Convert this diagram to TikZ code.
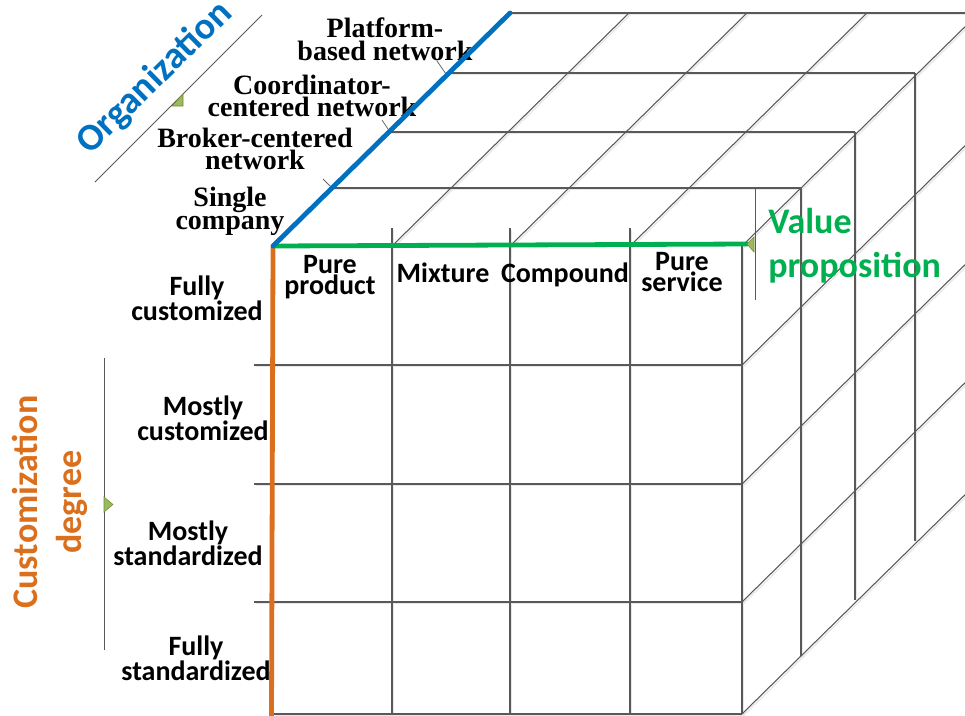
\documentclass[tikz,border=0pt]{standalone}
\usepackage{fontspec}
\setmainfont{Liberation Serif}
\newfontfamily\calfont{Carlito}
\definecolor{orgblue}{RGB}{0,112,192}
\definecolor{valgreen}{RGB}{0,176,80}
\definecolor{custorange}{RGB}{218,112,30}
\definecolor{olivefill}{RGB}{155,187,89}
\definecolor{olivedark}{RGB}{113,137,63}
\newcommand\drawcubegrid[1]{%
  % front face
  \foreach \c in {392,510,630} \draw[#1] (\c,228) -- (\c,714);
  \draw[#1] (742,246) -- (742,714);
  \foreach \r in {365,484,602} \draw[#1] (254,\r) -- (742,\r);
  \draw[#1] (273,714) -- (742,714);
  % top face diagonals
  \foreach \c in {392,510,630,742} \draw[#1] (\c,246) -- (\c+237,13);
  % right face diagonals
  \foreach \r in {365,484,602,714} \draw[#1] (742,\r) -- (979,\r-233);
  % depth layers
  \foreach \dx/\dy in {59/58,113/114,173/173,237/233}{
    \draw[#1] (273+\dx,246-\dy) -- (742+\dx,246-\dy);
    \draw[#1] (742+\dx,246-\dy) -- (742+\dx,714-\dy);
  }
}
\begin{document}
\begin{tikzpicture}[x=0.75pt,y=-0.75pt,
  gl/.style={draw=black!65, line width=0.8pt},
  glshadow/.style={draw=black!9, line width=1.1pt},
  lab/.style={font=\calfont\bfseries\fontsize{21pt}{15.75pt}\selectfont, inner sep=0pt, align=center},
  slab/.style={font=\bfseries\fontsize{21pt}{17pt}\selectfont, inner sep=0pt, align=center},
  axislab/.style={font=\calfont\bfseries\fontsize{27pt}{33pt}\selectfont, inner sep=0pt, align=center},
  tri/.style={fill=olivefill, draw=olivedark, line width=0.4pt},
  bracket/.style={draw=black!65, line width=0.75pt},
  leader/.style={draw=black!60, line width=0.6pt},
  axisline/.style={line width=3.6pt}]
\useasboundingbox (0,0) rectangle (965,715);
\clip (0,0) rectangle (965,715);

% grid with faint shadow
\begin{scope}[shift={(1.5,1.5)}]
  \drawcubegrid{glshadow}
\end{scope}
\drawcubegrid{gl}

% organization labels (serif)
\node[slab] (plat) at (385,39) {Platform-\\based network};
\node[slab] (coord) at (312,96) {Coordinator-\\centered network};
\node[slab] (broker) at (255,149) {Broker-centered\\network};
\node[slab] (single) at (230,211) {Single\\company};

% leader ticks
\coordinate (l3) at (446,74);
\coordinate (l2) at (390,132);
\coordinate (l1) at (332,188);
\coordinate (t3) at (437,61);
\coordinate (t2) at (382,120);
\coordinate (t1) at (323,179);
\draw[leader] (t3) -- (l3);
\draw[leader] (t2) -- (l2);
\draw[leader] (t1) -- (l1);

% customization labels
\node[lab] (fc) at (197,298.5) {Fully\\customized};
\node[lab] (mc) at (203,418) {Mostly\\customized};
\node[lab] (ms) at (188,543.5) {Mostly\\standardized};
\node[lab] (fs) at (196,658) {Fully\\standardized};

% value proposition labels
\node[lab] (pp) at (330,277) {Pure\\product};
\node[lab, anchor=base] (mix) at (443,282) {Mixture};
\node[lab, anchor=base] (comp) at (565,282) {Compound};
\node[lab] (ps) at (682,272) {Pure\\service};

% axis titles
\node[axislab, text=valgreen, anchor=west, align=left] (val) at (768,246) {Value\\proposition};
\node[axislab, text=custorange, rotate=90] (cust) at (50,502) {Customization\\degree};
\node[axislab, text=orgblue, rotate=44.5, font=\calfont\bfseries\fontsize{28.5pt}{33pt}\selectfont] (org) at (155,78) {Organization};

% bracket lines and triangles
\coordinate (ob1) at (95,182);
\coordinate (ob2) at (262,15);
\draw[bracket] (ob1) -- (ob2);
\filldraw[tri] (172,106) -- (183,94) -- (183,106) -- cycle;
\coordinate (cb1) at (104,358);
\coordinate (cb2) at (104,650);
\draw[bracket] (cb1) -- (cb2);
\filldraw[tri] (104,497) -- (113,504.5) -- (104,512) -- cycle;
\coordinate (vb1) at (755,188);
\coordinate (vb2) at (755,300);
\draw[bracket] (vb1) -- (vb2);

% coloured axes
\coordinate (O) at (273,246);
\coordinate (Btop) at (510,13);
\coordinate (Gend) at (748,244);
\coordinate (Obot) at (271.5,718);
\draw[axisline, custorange] (273,247) -- (Obot);
\draw[axisline, valgreen] (O) -- (Gend);
\draw[axisline, orgblue, line cap=round] (O) -- (Btop);
\filldraw[tri] (747,244) -- (754,237) -- (754,252) -- cycle;
\end{tikzpicture}
\end{document}
